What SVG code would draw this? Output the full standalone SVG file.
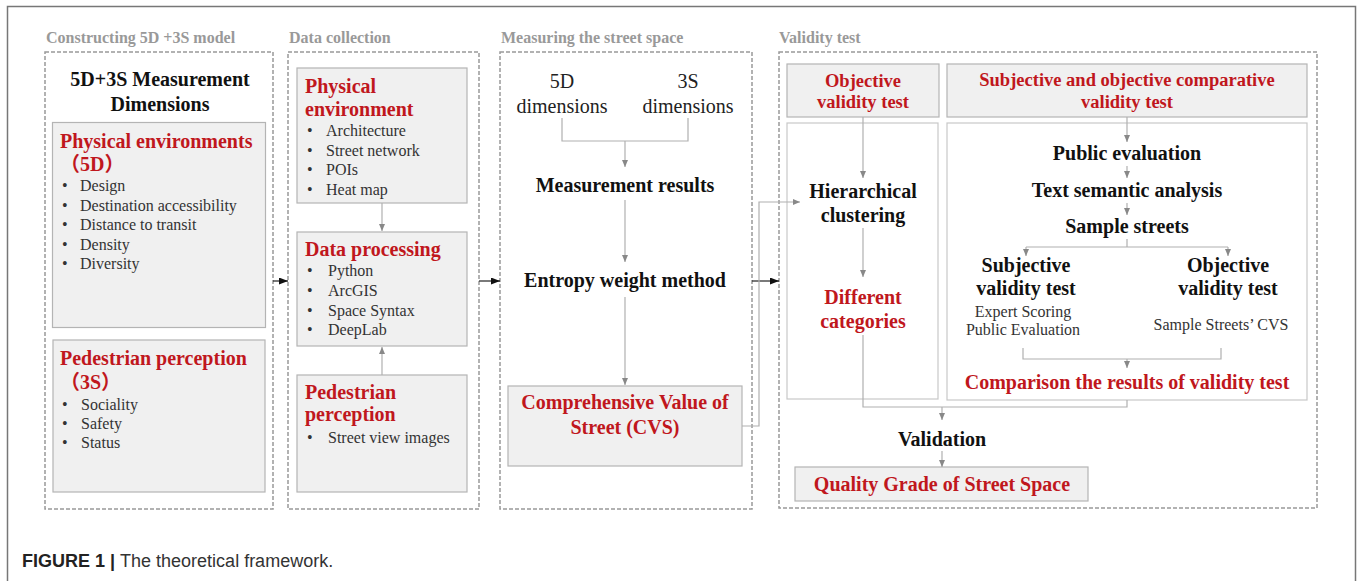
<svg xmlns="http://www.w3.org/2000/svg" width="1357" height="581" viewBox="0 0 1357 581">
<style>
text{font-family:"Liberation Serif","Times New Roman",serif}
.ttl{font-size:16px;font-weight:bold;fill:#999}
.h{font-size:20px;font-weight:bold;fill:#111}
.hr{font-size:20px;font-weight:bold;fill:#c0171d}
.hr18{font-size:18.5px;font-weight:bold;fill:#c0171d}
.b{font-size:16px;fill:#333}
.r{font-size:20px;fill:#222}
.m{text-anchor:middle}
.cjk{font-family:"Liberation Serif","Noto Sans CJK SC",serif}
.dash{fill:none;stroke:#999;stroke-width:1.5;stroke-dasharray:4 2}
.box{fill:#f0f0f0;stroke:#b4b4b4;stroke-width:1.2}
.wbox{fill:#fff;stroke:#c8c8c8;stroke-width:1.2}
.c{fill:none;stroke:#b0b0b0;stroke-width:1.2}
.ca{fill:none;stroke:#b0b0b0;stroke-width:1.2;marker-end:url(#ga)}
.k{fill:none;stroke:#222;stroke-width:1.2;marker-end:url(#ka)}
.cap{font-family:"Liberation Sans",Arial,sans-serif;font-size:18px;fill:#333}
</style>
<defs>
<marker id="ga" markerWidth="7" markerHeight="6" refX="7" refY="3" orient="auto" markerUnits="userSpaceOnUse"><path d="M0,0 L7,3 L0,6 z" fill="#888"/></marker>
<marker id="ka" markerWidth="9" markerHeight="7" refX="9" refY="3.5" orient="auto" markerUnits="userSpaceOnUse"><path d="M0,0 L9,3.5 L0,7 z" fill="#111"/></marker>
</defs>
<rect width="1357" height="581" fill="#fff"/>
<path d="M7.5,581 V6.5 H1355.5 V581" fill="none" stroke="#777" stroke-width="1.5"/>

<g id="col1">
<text class="ttl" x="46" y="43">Constructing 5D +3S model</text>
<rect class="dash" x="45" y="52" width="228" height="457"/>
<text class="h m" x="160" y="86">5D+3S Measurement</text>
<text class="h m" x="160" y="111">Dimensions</text>
</g>
<g id="physical-environments">
<rect class="box" x="52.5" y="122.5" width="213" height="205"/>
<text class="hr" x="60" y="148">Physical environments</text>
<text class="hr cjk" x="60" y="171">（5D）</text>
<g class="b"><text x="62" y="191">•</text><text x="80" y="191">Design</text>
<text x="62" y="211">•</text><text x="80" y="211">Destination accessibility</text>
<text x="62" y="230">•</text><text x="80" y="230">Distance to transit</text>
<text x="62" y="250">•</text><text x="80" y="250">Density</text>
<text x="62" y="269">•</text><text x="80" y="269">Diversity</text></g>
</g>
<g id="pedestrian-perception-3s">
<rect class="box" x="53" y="340" width="212" height="152"/>
<text class="hr" x="60" y="365">Pedestrian perception</text>
<text class="hr cjk" x="60" y="389">（3S）</text>
<g class="b"><text x="62" y="410">•</text><text x="81" y="410">Sociality</text>
<text x="62" y="429">•</text><text x="81" y="429">Safety</text>
<text x="62" y="448">•</text><text x="81" y="448">Status</text></g>
</g>

<g id="col2">
<text class="ttl" x="289" y="43">Data collection</text>
<rect class="dash" x="288" y="52" width="191" height="457"/>
</g>
<g id="physical-environment">
<rect class="box" x="297" y="68" width="170" height="135"/>
<text class="hr" x="305" y="93">Physical</text>
<text class="hr" x="305" y="116">environment</text>
<g class="b"><text x="307" y="136">•</text><text x="326" y="136">Architecture</text>
<text x="307" y="155.5">•</text><text x="326" y="155.5">Street network</text>
<text x="307" y="175">•</text><text x="326" y="175">POIs</text>
<text x="307" y="194.5">•</text><text x="326" y="194.5">Heat map</text></g>
</g>
<g id="data-processing">
<rect class="box" x="297" y="232" width="170" height="114"/>
<text class="hr" x="305" y="256">Data processing</text>
<g class="b"><text x="307" y="276">•</text><text x="328" y="276">Python</text>
<text x="307" y="296">•</text><text x="328" y="296">ArcGIS</text>
<text x="307" y="316">•</text><text x="328" y="316">Space Syntax</text>
<text x="307" y="335">•</text><text x="328" y="335">DeepLab</text></g>
</g>
<g id="pedestrian-perception">
<rect class="box" x="297" y="375" width="170" height="117"/>
<text class="hr" x="305" y="399">Pedestrian</text>
<text class="hr" x="305" y="421">perception</text>
<g class="b"><text x="307" y="443">•</text><text x="328" y="443">Street view images</text></g>
</g>

<g id="col3">
<text class="ttl" x="501" y="43">Measuring the street space</text>
<rect class="dash" x="500" y="52" width="252" height="457"/>
</g>
<g id="dim-5d"><text class="r m" x="562" y="88">5D</text><text class="r m" x="562" y="113">dimensions</text></g>
<g id="dim-3s"><text class="r m" x="688" y="88">3S</text><text class="r m" x="688" y="113">dimensions</text></g>
<g id="measurement-results"><text class="h m" x="625" y="192">Measurement results</text></g>
<g id="entropy-weight"><text class="h m" x="625" y="287">Entropy weight method</text></g>
<g id="cvs">
<rect class="box" x="508" y="386" width="234" height="80"/>
<text class="hr m" x="625" y="409">Comprehensive Value of</text>
<text class="hr m" x="625" y="434">Street (CVS)</text>
</g>

<g id="col4">
<text class="ttl" x="779" y="43">Validity test</text>
<rect class="dash" x="779" y="52" width="538" height="456"/>
</g>
<g id="objective-validity-header">
<rect class="box" x="787" y="64" width="152" height="53"/>
<text class="hr18 m" x="863" y="87">Objective</text>
<text class="hr18 m" x="863" y="108">validity test</text>
</g>
<g id="objective-panel"><rect class="wbox" x="787" y="123" width="151" height="276"/></g>
<g id="hierarchical-clustering"><text class="h m" x="863" y="198">Hierarchical</text><text class="h m" x="863" y="222">clustering</text></g>
<g id="different-categories"><text class="hr m" x="863" y="304">Different</text><text class="hr m" x="863" y="328">categories</text></g>
<g id="comparative-header">
<rect class="box" x="947" y="64" width="360" height="53"/>
<text class="hr18 m" x="1127" y="86">Subjective and objective comparative</text>
<text class="hr18 m" x="1127" y="108">validity test</text>
</g>
<g id="comparative-panel"><rect class="wbox" x="947" y="123" width="360" height="277"/></g>
<g id="public-evaluation"><text class="h m" x="1127" y="160">Public evaluation</text></g>
<g id="text-semantic"><text class="h m" x="1127" y="197">Text semantic analysis</text></g>
<g id="sample-streets"><text class="h m" x="1127" y="233">Sample streets</text></g>
<g id="subjective-validity">
<text class="h m" x="1026" y="272">Subjective</text><text class="h m" x="1026" y="295">validity test</text>
<text class="b m" x="1023" y="317">Expert Scoring</text><text class="b m" x="1023" y="335">Public Evaluation</text>
</g>
<g id="objective-validity">
<text class="h m" x="1228" y="272">Objective</text><text class="h m" x="1228" y="295">validity test</text>
<text class="b m" x="1221" y="330">Sample Streets’ CVS</text>
</g>
<g id="comparison"><text class="hr m" x="1127" y="389">Comparison the results of validity test</text></g>
<g id="validation"><text class="h m" x="942" y="446">Validation</text></g>
<g id="quality-grade">
<rect class="box" x="795" y="467" width="293" height="34"/>
<text class="hr m" x="942" y="491">Quality Grade of Street Space</text>
</g>

<g id="connectors">
<path class="ca" d="M382,203 V231"/>
<path class="ca" d="M382,375 V347"/>
<path class="k" d="M273,281 H288"/>
<path class="k" d="M479,281 H500"/>
<path class="k" d="M752,281 H779"/>
<path class="c" d="M562,118 V141 H688 V118"/>
<path class="ca" d="M625,141 V167"/>
<path class="ca" d="M625,200 V262"/>
<path class="ca" d="M625,297 V385"/>
<path class="ca" d="M742,426 H759 V202 H800"/>
<path class="ca" d="M863,117 V178"/>
<path class="ca" d="M863,228 V277"/>
<path class="c" d="M863,335 V407 H1127 V400"/>
<path class="ca" d="M942,407 V420"/>
<path class="ca" d="M1127,117 V142"/>
<path class="ca" d="M1127,166 V178"/>
<path class="ca" d="M1127,203 V215"/>
<path class="c" d="M1127,239 V247 M1026,247 H1228"/>
<path class="ca" d="M1026,247 V256"/>
<path class="ca" d="M1228,247 V256"/>
<path class="c" d="M1023,348 V359 H1221 V348"/>
<path class="ca" d="M1127,359 V368"/>
<path class="ca" d="M942,451 V467"/>
</g>

<g id="caption">
<text class="cap" x="22" y="567"><tspan font-weight="bold" fill="#222">FIGURE 1 | </tspan>The theoretical framework.</text>
</g>
</svg>
